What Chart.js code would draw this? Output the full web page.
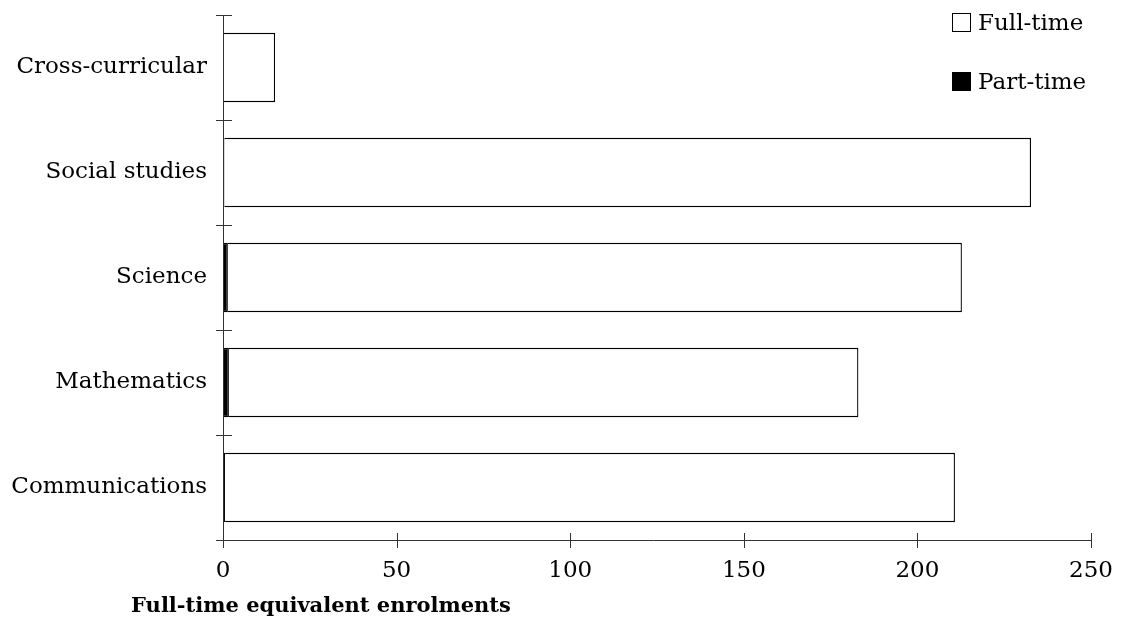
<!DOCTYPE html>
<html>
<head>
<meta charset="utf-8">
<script src="https://cdn.jsdelivr.net/npm/chart.js@4.4.0/dist/chart.umd.min.js"></script>
<style>
    body { margin: 0; background: #fff; }
    #wrap { position: relative; width: 1122px; height: 624px; font-family: "DejaVu Serif", serif; }
    #legend { position: absolute; left: 952px; top: 10px; font-size: 23px; color: #000; }
    .item { display: flex; align-items: center; height: 24px; margin-bottom: 35px; }
    .box { width: 19px; height: 19px; box-sizing: border-box; border: 1.5px solid #000; margin-right: 7px; }
    #xtitle { position: absolute; left: 0; width: 642px; top: 592px; text-align: center; font-weight: bold; font-size: 21px; }
</style>
</head>
<body>
<div id="wrap">
    <canvas id="chart" width="1122" height="624"></canvas>
    <div id="legend">
        <div class="item"><div class="box" style="background:#fff"></div>Full-time</div>
        <div class="item"><div class="box" style="background:#000"></div>Part-time</div>
    </div>
    <div id="xtitle">Full-time equivalent enrolments</div>
</div>
<script>
// data (top to bottom)
const subjects = ['Cross-curricular', 'Social studies', 'Science', 'Mathematics', 'Communications'];
const partTime = [0.2, 0.4, 1.4, 1.7, 0.6];
const fullTime = [14.8, 232.3, 211.4, 181.3, 210.2];
const xTicks = [0, 50, 100, 150, 200, 250];

// tick marks that cross the axis lines
const crossTicks = {
    id: 'crossTicks',
    afterDraw(chart) {
        const ctx = chart.ctx;
        const x = chart.scales.x, y = chart.scales.y;
        ctx.save();
        ctx.strokeStyle = '#333';
        ctx.lineWidth = 1;
        ctx.beginPath();
        // axis lines
        ctx.moveTo(x.left - 7, y.bottom + 0.5);
        ctx.lineTo(x.right, y.bottom + 0.5);
        ctx.moveTo(x.left + 0.5, y.top);
        ctx.lineTo(x.left + 0.5, y.bottom + 8);
        xTicks.forEach(v => {
            const px = Math.round(x.getPixelForValue(v)) + 0.5;
            ctx.moveTo(px, y.bottom - 7);
            ctx.lineTo(px, y.bottom + 8);
        });
        for (let i = 0; i <= subjects.length; i++) {
            const py = Math.round(y.getPixelForValue(i - 0.5)) + 0.5;
            ctx.moveTo(x.left - 7, py);
            ctx.lineTo(x.left + 9, py);
        }
        ctx.stroke();
        ctx.restore();
    }
};

new Chart(document.getElementById('chart'), {
    type: 'bar',
    data: {
        labels: subjects,
        datasets: [{
            label: 'Part-time',
            data: partTime,
            backgroundColor: '#000',
            borderColor: '#000',
            borderWidth: 1.3,
            categoryPercentage: 1,
            barPercentage: 0.66
        }, {
            label: 'Full-time',
            data: fullTime,
            backgroundColor: '#fff',
            borderColor: '#000',
            borderWidth: 1.3,
            categoryPercentage: 1,
            barPercentage: 0.66
        }]
    },
    options: {
        indexAxis: 'y',
        responsive: false,
        animation: false,
        layout: { padding: { top: 15, right: 26, left: 0, bottom: 0 } },
        plugins: { legend: { display: false }, tooltip: { enabled: false } },
        scales: {
            x: {
                stacked: true,
                min: 0,
                max: 250,
                afterBuildTicks: s => { s.ticks = xTicks.map(v => ({ value: v })); },
                afterFit: s => { s.height = 84; },
                grid: { display: false },
                border: { display: false },
                ticks: { color: '#000', padding: 9, font: { family: 'DejaVu Serif', size: 23 } }
            },
            y: {
                stacked: true,
                afterFit: s => { s.width = 223; s.paddingTop = 0; s.paddingBottom = 0; },
                grid: { display: false, offset: true },
                border: { display: false },
                ticks: { color: '#000', padding: 8, font: { family: 'DejaVu Serif', size: 23 } }
            }
        }
    },
    plugins: [crossTicks]
});
</script>
</body>
</html>
